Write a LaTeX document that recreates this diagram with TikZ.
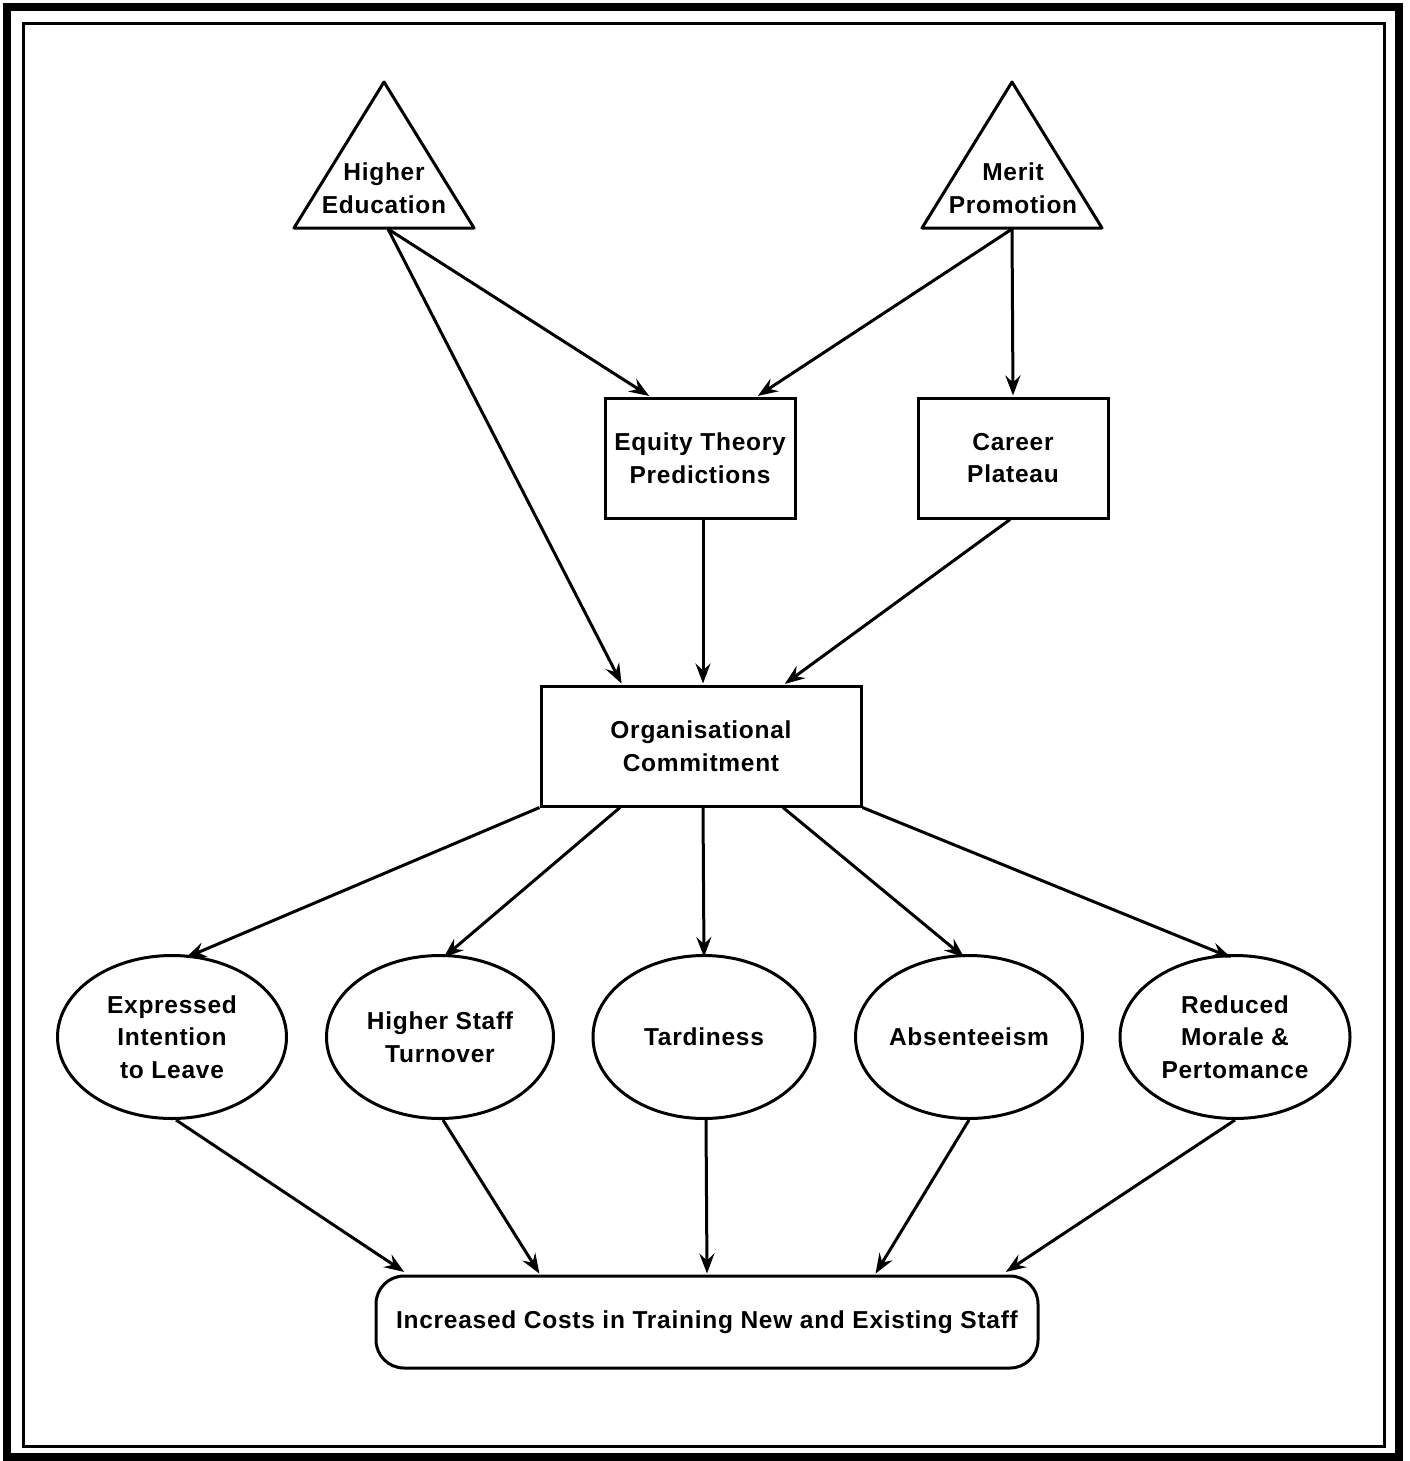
\documentclass[tikz,border=0pt]{standalone}
\usepackage{fontspec}
\setmainfont[LetterSpace=3]{Liberation Sans}
\usetikzlibrary{arrows.meta,shapes.geometric}
\begin{document}
\begin{tikzpicture}[x=1pt,y=-1pt,
  every node/.style={font=\fontsize{24.5}{32.5}\selectfont\bfseries, align=center, inner sep=0pt},
  ln/.style={line width=3pt},
  rbox/.style={draw, ln, rectangle, minimum width=190pt, minimum height=120pt},
  ell/.style={draw, ln, ellipse, minimum width=228pt, minimum height=163pt},
  conn/.style={ln, -{Stealth[length=20pt,width=15pt,inset=7pt]}, shorten >=1pt}
]
\useasboundingbox (0,0) rectangle (1410,1461);
% frames
\draw[line width=8pt] (7,7) rectangle (1399,1457);
\draw[ln] (23,24) rectangle (1384,1446);

% triangles
\draw[ln, line join=round] (384,82) -- (474,228) -- (294,228) -- cycle;
\node (he) at (384,188) {Higher\\Education};
\coordinate (heb) at (388,229);
\draw[ln, line join=round] (1012,82) -- (1102,228) -- (922,228) -- cycle;
\node (mp) at (1013,188) {Merit\\Promotion};
\coordinate (mpb) at (1012,229);

% boxes
\node[rbox] (eq) at (700,458) {Equity Theory\\Predictions};
\node[rbox] (cp) at (1013,458) {Career\\Plateau};
\node[rbox, minimum width=320pt] (oc) at (701,746) {Organisational\\Commitment};

% ellipses
\node[ell, minimum width=229pt] (e1) at (172,1037) {Expressed\\Intention\\to Leave};
\node[ell, minimum width=227pt] (e2) at (440,1037) {Higher Staff\\Turnover};
\node[ell, minimum width=222pt] (e3) at (704,1037) {Tardiness};
\node[ell, minimum width=227pt] (e4) at (969,1037) {Absenteeism};
\node[ell, minimum width=230pt] (e5) at (1235,1037) {Reduced\\Morale \&\\Pertomance};

% bottom box
\node[draw, ln, rectangle, rounded corners=28pt, minimum width=662pt, minimum height=92pt] (bot) at (707,1322)
  {Increased Costs in Training New and Existing Staff};

% connectors
\draw[conn] (heb) -- ([xshift=-50pt]eq.north);
\draw[conn] (heb) -- ([xshift=-79pt]oc.north);
\draw[conn] (mpb) -- ([xshift=57pt]eq.north);
\draw[conn] (mpb) -- (cp.north);
\draw[conn] ([xshift=3pt]eq.south) -- ([xshift=2pt]oc.north);
\draw[conn] ([xshift=-3pt]cp.south) -- ([xshift=83pt]oc.north);

\draw[conn] (oc.south west) -- ([xshift=13pt,yshift=-4pt]e1.north);
\draw[conn] ([xshift=-81pt]oc.south) -- ([xshift=3pt,yshift=-4pt]e2.north);
\draw[conn] ([xshift=2pt]oc.south) -- ([yshift=-4pt]e3.north);
\draw[conn] ([xshift=82pt]oc.south) -- ([xshift=-4pt,yshift=-4pt]e4.north);
\draw[conn] (oc.south east) -- ([xshift=-3pt,yshift=-4pt]e5.north);

\draw[conn] ([xshift=4pt]e1.south) -- ([xshift=-302pt,yshift=2pt]bot.north);
\draw[conn] ([xshift=3pt]e2.south) -- ([xshift=-167pt]bot.north);
\draw[conn] ([xshift=2pt]e3.south) -- (bot.north);
\draw[conn] (e4.south) -- ([xshift=168pt]bot.north);
\draw[conn] (e5.south) -- ([xshift=298pt,yshift=2pt]bot.north);
\end{tikzpicture}
\end{document}
